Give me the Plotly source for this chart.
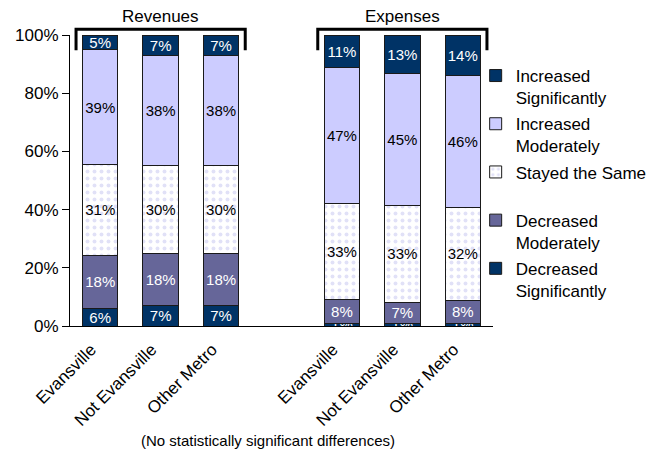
import plotly.graph_objects as go

# ---- data ----
groups = ["Revenues", "Expenses"]
categories = ["Evansville", "Not Evansville", "Other Metro"]
series_names = ["Decreased<br>Significantly", "Decreased<br>Moderately", "Stayed the Same<br> ",
                "Increased<br>Moderately", "Increased<br>Significantly"]
# values per series, order: Revenues(Evansville, Not Evansville, Other Metro), Expenses(...)
decreased_significantly = [6, 7, 7, 1, 1, 1]
decreased_moderately = [18, 18, 18, 8, 7, 8]
stayed_same = [31, 30, 30, 33, 33, 32]
increased_moderately = [39, 38, 38, 47, 45, 46]
increased_significantly = [5, 7, 7, 11, 13, 14]
y_ticks = [0, 20, 40, 60, 80, 100]
note = "(No statistically significant differences)"

series_values = [decreased_significantly, decreased_moderately, stayed_same,
                 increased_moderately, increased_significantly]

NAVY = "#003366"
styles = [
    dict(color=NAVY, text="white", pattern=None),
    dict(color="#666699", text="white", pattern=None),
    dict(color="white", text="black", pattern=dict(shape=".", fgcolor="#C4C4F0", bgcolor="white", size=7, solidity=0.25)),
    dict(color="#CCCCFF", text="black", pattern=None),
    dict(color=NAVY, text="white", pattern=None),
]

FONT = "Liberation Sans, Arial, sans-serif"
ncat = len(categories)
xpos = [g * (ncat + 1) + i for g in range(len(groups)) for i in range(ncat)]
xlabels = [c for g in groups for c in categories]

fig = go.Figure()
nser = len(series_names)
for k, (name, vals, st) in enumerate(zip(series_names, series_values, styles)):
    marker = dict(color=st["color"], line=dict(color="#1a1a1a", width=1))
    if st["pattern"]:
        marker["pattern"] = st["pattern"]
    fig.add_trace(go.Bar(
        x=xpos, y=vals, name=name, marker=marker, width=0.585,
        text=[f"{v}%" for v in vals], textposition="inside", insidetextanchor="middle",
        textangle=0, constraintext="none",
        textfont=dict(color=st["text"], size=15, family=FONT),
        legendgroup=f"g{k}", legendrank=nser - k, hoverinfo="name+y",
    ))

# brackets and group titles
for g, label in enumerate(groups):
    left = g * (ncat + 1) - 0.4
    right = g * (ncat + 1) + ncat - 1 + 0.4
    fig.add_shape(type="path", xref="x", yref="paper",
                  path=f"M {left},0.948 L {left},1.0196 L {right},1.0196 L {right},0.948",
                  line=dict(color="black", width=3))
    fig.add_annotation(x=(left + right) / 2, y=1.062, xref="x", yref="paper", text=label,
                       showarrow=False, font=dict(size=17, color="black", family=FONT),
                       xanchor="center", yanchor="middle")

fig.add_annotation(x=0.467, y=-0.392, xref="paper", yref="paper", text=note, showarrow=False,
                   font=dict(size=15, color="black", family=FONT), xanchor="center", yanchor="middle")

fig.update_layout(
    width=660, height=441,
    barmode="stack", barnorm="percent",
    margin=dict(l=62, r=174.5, t=27, b=123, autoexpand=False),
    paper_bgcolor="white", plot_bgcolor="white",
    font=dict(family=FONT, size=17, color="black"),
    uniformtext=dict(minsize=15, mode="show"),
    showlegend=True,
    legend=dict(traceorder="grouped", x=0.959, xanchor="left", y=0.921, yanchor="top",
                font=dict(size=17), valign="top", tracegroupgap=1, bgcolor="rgba(0,0,0,0)"),
    xaxis=dict(range=[-0.5, 6.5], tickvals=xpos, ticktext=xlabels, tickangle=-45,
               showline=True, linecolor="black", linewidth=1, ticks="", showgrid=False,
               zeroline=False, tickfont=dict(size=17), ticklabelshift=-9, ticklabelstandoff=6),
    yaxis=dict(range=[0, 100], tickvals=y_ticks, ticktext=[f"{t}%" for t in y_ticks],
               showline=True, linecolor="black", linewidth=1, ticks="outside", ticklen=7,
               tickcolor="black", showgrid=False, zeroline=False, tickfont=dict(size=17)),
)

fig.write_html("out.html")
